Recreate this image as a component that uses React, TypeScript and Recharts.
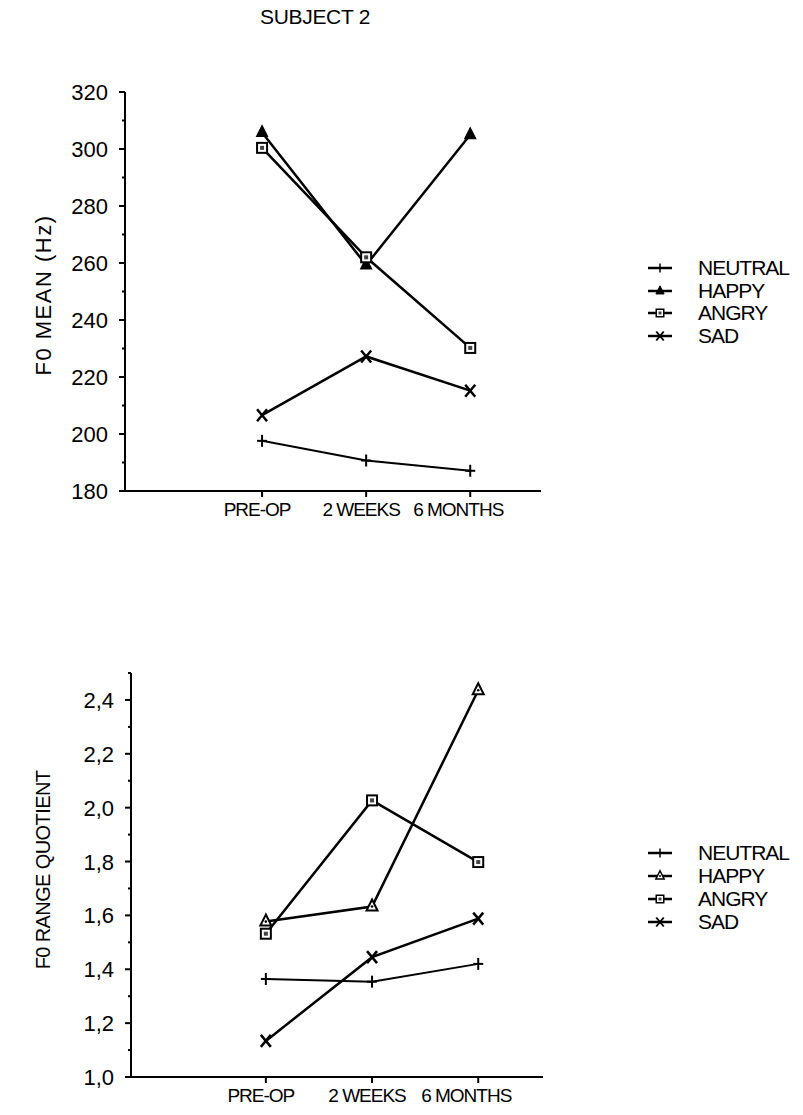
import { LineChart, Line, XAxis, YAxis } from 'recharts';

const categories = ['PRE-OP', '2 WEEKS', '6 MONTHS'];
const seriesNames = ['NEUTRAL', 'HAPPY', 'ANGRY', 'SAD'];

// F0 mean (Hz)
const meanNeutral = [197.6, 190.7, 187.1];
const meanHappy = [305.8, 259.3, 305.0];
const meanAngry = [300.4, 262.0, 230.2];
const meanSad = [206.6, 227.2, 215.2];

// F0 range quotient
const rangeNeutral = [1.364, 1.354, 1.42];
const rangeHappy = [1.577, 1.633, 2.436];
const rangeAngry = [1.532, 2.027, 1.798];
const rangeSad = [1.134, 1.445, 1.588];

const meanTicks = [180, 190, 200, 210, 220, 230, 240, 250, 260, 270, 280, 290, 300, 310, 320];
const meanTickLabels = ['180', '', '200', '', '220', '', '240', '', '260', '', '280', '', '300', '', '320'];
const rangeTicks = [1.0, 1.1, 1.2, 1.3, 1.4, 1.5, 1.6, 1.7, 1.8, 1.9, 2.0, 2.1, 2.2, 2.3, 2.4, 2.5];
const rangeTickLabels = ['1,0', '', '1,2', '', '1,4', '', '1,6', '', '1,8', '', '2,0', '', '2,2', '', '2,4', ''];

const FONT = '"Liberation Sans", Arial, sans-serif';

// the printed category labels sit a little left of their ticks
const labelShift = [-5, -5, -12];

const buildRows = (series: number[][]) =>
  categories.map((c, i) => {
    const row: Record<string, number | string> = { pos: i + 1, cat: c };
    seriesNames.forEach((n, j) => {
      row[n] = series[j][i];
    });
    return row;
  });

const meanData = buildRows([meanNeutral, meanHappy, meanAngry, meanSad]);
const rangeData = buildRows([rangeNeutral, rangeHappy, rangeAngry, rangeSad]);

// markers: + triangle square x
const Marker = ({ kind, cx, cy, hollow }: { kind: string; cx: number; cy: number; hollow?: boolean }) => {
  if (kind === 'NEUTRAL') {
    return (
      <g>
        <line x1={cx - 5} x2={cx + 5} y1={cy} y2={cy} stroke="#000" strokeWidth={2} />
        <line x1={cx} x2={cx} y1={cy - 6} y2={cy + 6} stroke="#000" strokeWidth={2} />
      </g>
    );
  }
  if (kind === 'HAPPY') {
    return (
      <g>
        <polygon
          points={`${cx},${cy - 7} ${cx - 5.5},${cy + 4} ${cx + 5.5},${cy + 4}`}
          fill={hollow ? '#fff' : '#000'}
          stroke="#000"
          strokeWidth={hollow ? 2 : 1.2}
        />
        {hollow && <circle cx={cx} cy={cy} r={1.3} fill="#000" />}
      </g>
    );
  }
  if (kind === 'ANGRY') {
    return (
      <g>
        <rect x={cx - 5} y={cy - 5} width={10} height={10} fill="#fff" stroke="#000" strokeWidth={2} />
        <rect x={cx - 2} y={cy - 2} width={4} height={4} fill="#444" />
      </g>
    );
  }
  return (
    <g>
      <line x1={cx - 5} x2={cx + 5} y1={cy - 6} y2={cy + 6} stroke="#000" strokeWidth={2.5} />
      <line x1={cx - 5} x2={cx + 5} y1={cy + 6} y2={cy - 6} stroke="#000" strokeWidth={2.5} />
    </g>
  );
};

const makeDot = (kind: string, hollow: boolean) => (props: any) =>
  <Marker key={`${kind}-${props.index}`} kind={kind} cx={props.cx} cy={props.cy} hollow={hollow} />;

const makeYTick = (ticks: number[], labels: string[]) => (props: any) => {
  const { x, y, payload } = props;
  const axisX = x + 17;
  const idx = ticks.findIndex((t) => Math.abs(t - payload.value) < 1e-6);
  const label = idx >= 0 ? labels[idx] : '';
  const major = label !== '';
  return (
    <g>
      <line x1={axisX - (major ? 6 : 3)} x2={axisX} y1={y} y2={y} stroke="#000" strokeWidth={2} />
      {major && (
        <text x={x} y={y} dy={8} textAnchor="end" fontSize={22} fontFamily={FONT} fill="#000">
          {label}
        </text>
      )}
    </g>
  );
};

const XTick = (props: any) => {
  const { x, y, payload } = props;
  const i = payload.value - 1;
  return (
    <text
      x={x + labelShift[i]}
      y={y}
      dy={15}
      textAnchor="middle"
      fontSize={19}
      letterSpacing={-1}
      fontFamily={FONT}
      fill="#000"
    >
      {categories[i]}
    </text>
  );
};

const LegendBox = ({ top, gap, hollow }: { top: number; gap: number; hollow: boolean }) => (
  <div
    style={{
      position: 'absolute',
      left: 646,
      top,
      fontFamily: FONT,
      fontSize: 21,
      letterSpacing: -1,
      color: '#000',
    }}
  >
    {seriesNames.map((n) => (
      <div key={n} style={{ display: 'flex', alignItems: 'center', height: gap }}>
        <svg width={28} height={16} style={{ marginRight: 24 }}>
          <line x1={2} x2={26} y1={8} y2={8} stroke="#000" strokeWidth={2.5} />
          <g transform="translate(14,8) scale(0.75) translate(-14,-8)">
            <Marker kind={n} cx={14} cy={8} hollow={hollow} />
          </g>
        </svg>
        <span>{n}</span>
      </div>
    ))}
  </div>
);

const seriesLines = (widths: number[], hollow: boolean) =>
  seriesNames.map((n, j) => (
    <Line
      key={n}
      dataKey={n}
      name={n}
      type="linear"
      stroke="#000"
      strokeWidth={widths[j]}
      dot={makeDot(n, hollow)}
      activeDot={false}
      isAnimationActive={false}
    />
  ));

export default function App() {
  return (
    <div
      style={{
        position: 'absolute',
        left: 0,
        top: 0,
        width: 803,
        height: 1115,
        background: '#fff',
        fontFamily: FONT,
      }}
    >
      <div
        style={{
          position: 'absolute',
          left: 0,
          width: 630,
          top: 5,
          textAlign: 'center',
          fontSize: 21,
          letterSpacing: -0.3,
        }}
      >
        SUBJECT 2
      </div>

      <div style={{ position: 'absolute', left: 0, top: 0 }}>
        <LineChart width={803} height={560} data={meanData} margin={{ top: 92, right: 262, left: 65, bottom: 29 }}>
          <XAxis
            dataKey="pos"
            type="number"
            domain={[-0.317, 3.68]}
            ticks={[1, 2, 3]}
            height={40}
            tick={XTick}
            tickSize={6}
            tickMargin={4}
            axisLine={{ stroke: '#000', strokeWidth: 2 }}
            tickLine={{ stroke: '#000', strokeWidth: 2 }}
          />
          <YAxis
            type="number"
            domain={[180, 320]}
            ticks={meanTicks}
            interval={0}
            width={60}
            tick={makeYTick(meanTicks, meanTickLabels)}
            tickSize={6}
            tickMargin={11}
            tickLine={false}
            axisLine={{ stroke: '#000', strokeWidth: 2 }}
          />
          {seriesLines([2, 2.5, 2.5, 2.5], false)}
        </LineChart>
      </div>
      <LegendBox top={257} gap={22.5} hollow={false} />

      <div style={{ position: 'absolute', left: 0, top: 560 }}>
        <LineChart width={803} height={555} data={rangeData} margin={{ top: 113, right: 260, left: 71, bottom: 8 }}>
          <XAxis
            dataKey="pos"
            type="number"
            domain={[-0.27, 3.61]}
            ticks={[1, 2, 3]}
            height={30}
            tick={XTick}
            tickSize={6}
            tickMargin={4}
            axisLine={{ stroke: '#000', strokeWidth: 2 }}
            tickLine={{ stroke: '#000', strokeWidth: 2 }}
          />
          <YAxis
            type="number"
            domain={[1.0, 2.5]}
            ticks={rangeTicks}
            interval={0}
            width={60}
            tick={makeYTick(rangeTicks, rangeTickLabels)}
            tickSize={6}
            tickMargin={11}
            tickLine={false}
            axisLine={{ stroke: '#000', strokeWidth: 2 }}
          />
          {seriesLines([2, 2.5, 2.5, 2.5], true)}
        </LineChart>
      </div>
      <LegendBox top={841} gap={23} hollow={true} />

      {/* vertical axis titles */}
      <svg width={80} height={1115} style={{ position: 'absolute', left: 0, top: 0 }}>
        <text
          transform="translate(51,295) rotate(-90)"
          textAnchor="middle"
          fontSize={22}
          letterSpacing={1.5}
          fontFamily={FONT}
          fill="#000"
        >
          F0 MEAN (Hz)
        </text>
        <text
          transform="translate(50,870) rotate(-90)"
          textAnchor="middle"
          fontSize={20}
          letterSpacing={-0.6}
          fontFamily={FONT}
          fill="#000"
        >
          F0 RANGE QUOTIENT
        </text>
      </svg>
    </div>
  );
}
